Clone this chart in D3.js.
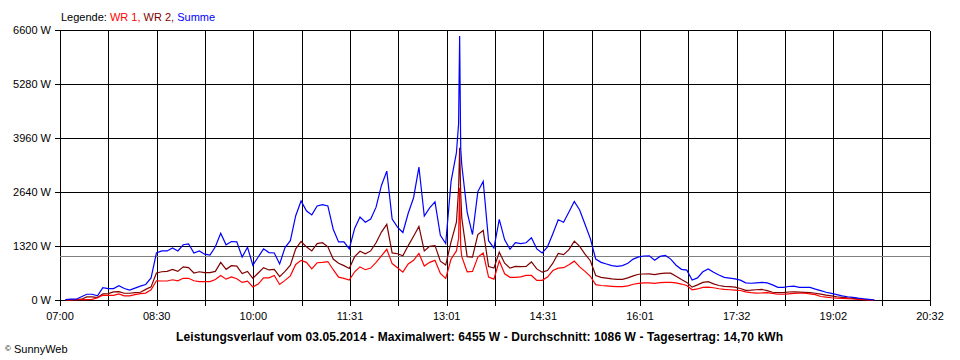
<!DOCTYPE html>
<html><head><meta charset="utf-8">
<script src="https://cdn.jsdelivr.net/npm/d3@7"></script>
<style>
body{margin:0;background:#fff}
svg{display:block}
text{font-family:Arial,"Liberation Sans",sans-serif;font-size:11px;fill:#000}
</style>
</head><body>
<svg id="c" width="960" height="360"></svg>
<script>
const times = [
"07:05","07:10","07:15","07:20","07:25","07:30","07:35","07:40","07:45","07:50","07:55","08:00",
"08:05","08:10","08:15","08:20","08:25","08:30","08:35","08:40","08:45","08:50","08:55","09:00",
"09:05","09:10","09:15","09:20","09:25","09:30","09:35","09:40","09:45","09:50","09:55","10:00",
"10:05","10:10","10:15","10:20","10:25","10:30","10:35","10:40","10:45","10:50","10:55","11:00",
"11:05","11:10","11:15","11:20","11:25","11:30","11:35","11:40","11:45","11:50","11:55","12:00",
"12:05","12:10","12:15","12:20","12:25","12:30","12:35","12:40","12:45","12:50","12:55","13:00","13:05","13:10",
"13:12","13:13","13:14",
"13:15","13:20","13:25","13:30","13:35","13:40","13:45","13:50","13:55","14:00",
"14:05","14:10","14:15","14:20","14:25","14:30","14:35","14:40","14:45","14:50","14:55","15:00",
"15:05","15:10","15:15","15:20","15:25","15:30","15:35","15:40","15:45","15:50","15:55","16:00",
"16:05","16:10","16:15","16:20","16:25","16:30","16:35","16:40","16:45","16:50","16:55","17:00",
"17:05","17:10","17:15","17:20","17:25","17:30","17:35","17:40","17:45","17:50","17:55","18:00",
"18:05","18:10","18:15","18:20","18:25","18:30","18:35","18:40","18:45","18:50","18:55","19:00",
"19:05","19:10","19:15","19:20","19:25","19:30","19:35","19:40"
];
// WR 1 (red)
const wr1 = [
0,5,8,10,10,15,55,118,115,115,150,100,
100,130,155,170,250,470,465,465,495,470,530,530,
470,450,450,450,500,600,510,565,520,430,460,320,
390,540,540,600,380,480,590,870,970,920,760,910,
920,940,740,560,530,490,690,810,740,780,920,1080,
1240,890,790,680,880,970,1140,830,920,970,650,530,1000,1200,
1500,2735,1300,
1060,690,700,1050,1150,560,510,960,640,555,
555,565,600,600,480,480,560,720,780,790,860,950,
810,700,580,375,355,345,335,325,325,345,385,405,
420,420,405,425,430,430,420,390,355,250,270,310,
315,300,275,258,250,240,232,200,182,170,172,178,
160,140,140,150,160,165,165,150,130,85,70,55,
45,40,32,25,15,8,0,0
];
// WR 2 (dark red)
const wr2 = [
0,5,10,20,75,75,60,150,155,200,205,165,
165,180,190,260,320,660,690,700,750,700,810,790,
660,690,670,670,700,920,750,840,830,645,700,530,
660,790,735,750,570,700,850,1250,1430,1300,1200,1380,
1400,1300,1000,900,840,770,1060,1190,1130,1200,1400,1660,
1850,1150,1130,1080,1330,1560,1800,1200,1310,1330,950,855,1420,1900,
2700,3720,2600,
2000,1060,1050,1600,1700,820,780,1170,900,780,
820,815,820,930,760,680,720,900,1140,1110,1230,1440,
1310,1120,960,600,555,535,515,505,505,540,590,630,
635,640,620,645,655,655,580,500,430,315,370,430,
450,395,355,335,325,315,280,235,240,250,258,230,
190,180,180,195,200,192,185,180,165,145,120,100,
80,65,50,40,30,15,5,0
];
// Summe (blue)
const summe = [
10,20,20,80,140,140,100,300,280,280,350,280,
240,290,340,380,540,1150,1200,1200,1270,1200,1350,1370,
1150,1200,1120,1100,1300,1630,1350,1430,1420,1050,1290,850,
1050,1250,1160,1150,880,1280,1450,2060,2420,2180,2080,2300,
2330,2300,1730,1420,1420,1250,1750,2030,1900,1980,2270,2800,
3150,1980,1780,1650,2120,2500,3250,2050,2250,2400,1580,1380,2900,3600,
4300,6455,3700,
3300,2150,1600,2650,2900,1450,1270,1970,1470,1240,
1400,1380,1400,1520,1250,1150,1300,1620,1960,1900,2150,2410,
2200,1850,1500,1000,920,880,840,820,840,900,1000,1055,
1075,1080,970,1065,1090,1000,850,750,730,490,540,690,
760,680,610,555,535,515,485,420,410,420,430,420,
370,310,310,330,340,310,310,310,265,230,190,160,
130,100,80,65,45,30,15,0
];
const yTicks = [0, 1320, 2640, 3960, 5280, 6600];
const xTickLabels = ["07:00","08:30","10:00","11:31","13:01","14:31","16:01","17:32","19:02","20:32"];
const average = 1086;
const seriesNames = ["WR 1", "WR 2", "Summe"];
const seriesColors = ["#ff0000", "#800000", "#0000ff"];
const caption = "Leistungsverlauf vom 03.05.2014 - Maximalwert: 6455 W - Durchschnitt: 1086 W - Tagesertrag: 14,70 kWh";

const toMin = s => { const [h, m] = s.split(":").map(Number); return h * 60 + m; };
const svg = d3.select("#c");
const t0 = toMin(xTickLabels[0]), t1 = toMin(xTickLabels[xTickLabels.length - 1]);
const x = d3.scaleLinear().domain([t0, t1]).range([60, 930]);
const y = d3.scaleLinear().domain([0, 6600]).range([300, 30]);
const nDiv = (xTickLabels.length - 1) * 2;
const px = v => Math.round(v) + 0.5;

const grid = svg.append("g").attr("shape-rendering", "crispEdges").attr("stroke", "#000").attr("stroke-width", 1);
yTicks.forEach(v => {
  grid.append("line").attr("x1", 55).attr("x2", 930).attr("y1", px(y(v))).attr("y2", px(y(v)));
});
for (let i = 0; i <= nDiv; i++) {
  const xv = px(x(t0 + i * (t1 - t0) / nDiv));
  grid.append("line").attr("x1", xv).attr("x2", xv).attr("y1", px(y(6600))).attr("y2", 306);
}
svg.append("line").attr("shape-rendering", "crispEdges")
  .attr("x1", 60).attr("x2", 930).attr("y1", px(y(average))).attr("y2", px(y(average)))
  .attr("stroke", "#808080").attr("stroke-width", 1);

svg.append("g").selectAll("text").data(yTicks).join("text")
  .attr("x", 51).attr("y", d => y(d) + 4).attr("text-anchor", "end")
  .text(d => d + " W");
svg.append("g").selectAll("text").data(xTickLabels).join("text")
  .attr("x", (d, i) => x(t0 + i * 2 * (t1 - t0) / nDiv)).attr("y", 320).attr("text-anchor", "middle")
  .text(d => d);

const tm = times.map(toMin);
const line = d3.line().x((d, i) => x(tm[i])).y(d => y(d));
[wr2, wr1, summe].forEach((arr, k) => {
  const col = [seriesColors[1], seriesColors[0], seriesColors[2]][k];
  svg.append("path").datum(arr).attr("d", line).attr("fill", "none")
    .attr("stroke", col).attr("stroke-width", 1.2).attr("stroke-linejoin", "miter");
});

const lg = svg.append("text").attr("x", 61).attr("y", 21);
lg.append("tspan").text("Legende: ");
lg.append("tspan").style("fill", seriesColors[0]).text(seriesNames[0] + ", ");
lg.append("tspan").style("fill", seriesColors[1]).text(seriesNames[1] + ", ");
lg.append("tspan").style("fill", seriesColors[2]).text(seriesNames[2]);

svg.append("text").attr("x", 176).attr("y", 341)
  .style("font-weight", "bold").style("font-size", "12px")
  .attr("textLength", 607).attr("lengthAdjust", "spacing").text(caption);

const cp = svg.append("text").attr("x", 5).attr("y", 353);
cp.append("tspan").style("font-size", "8px").attr("dy", -2).text("©");
cp.append("tspan").attr("dy", 2).text(" SunnyWeb");
</script>
</body></html>
